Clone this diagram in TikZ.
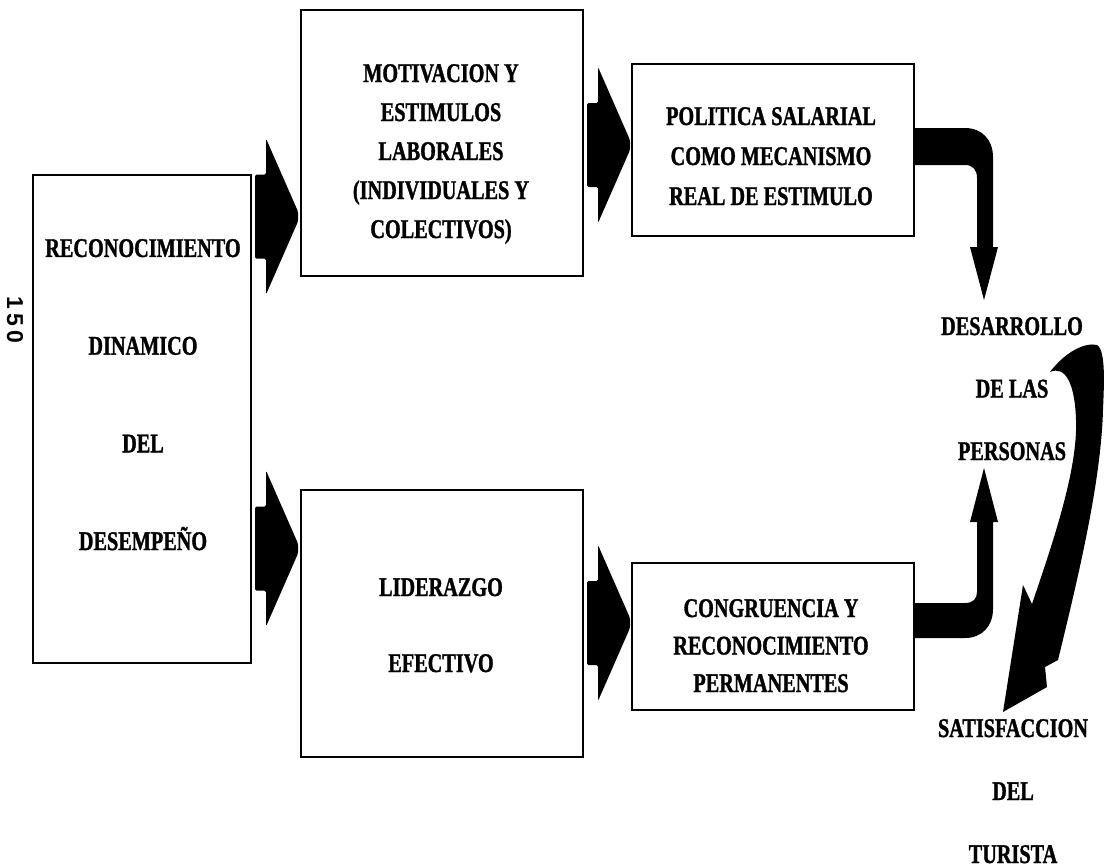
\documentclass[tikz,border=0pt]{standalone}
\usepackage{fontspec}
\newfontfamily\lab{Liberation Serif}[FakeStretch=0.75,FakeBold=1.2]
\newfontfamily\pnum{Liberation Sans}
\newcommand\capl[1]{\raisebox{0pt}[18pt][0pt]{#1}}
\tikzset{
  box/.style={draw, line width=2.4pt, inner sep=0pt},
  lbl/.style={inner sep=0pt, align=center},
  blk/.style={fill=black, draw=none},
  pics/blockarr/.style={code={
    \fill[blk, rounded corners=1.5pt] (0,-42) -- (11,-42) -- (11,-78)
      -- (43,-5) -- (43,5) -- (11,78) -- (11,42) -- (0,42) -- cycle;
  }}
}
\begin{document}
\begin{tikzpicture}[x=1pt,y=-1pt]
\useasboundingbox (0,0) rectangle (1104,868);

% boxes
\node[box, minimum width=218pt, minimum height=488pt] (L)  at (142,419) {};
\node[box, minimum width=282pt, minimum height=266pt] (TM) at (442,143) {};
\node[box, minimum width=282pt, minimum height=172pt] (TR) at (773,150) {};
\node[box, minimum width=282pt, minimum height=267pt] (BM) at (442,623.5) {};
\node[box, minimum width=282pt, minimum height=147pt] (BR) at (773,636.5) {};

% texts
\node[lbl, font=\lab\fontsize{27}{97.7}\selectfont\bfseries] (tL) at (143,394.5)
  {\capl{RECONOCIMIENTO}\\\capl{DINAMICO}\\\capl{DEL}\\\capl{DESEMPEÑO}};
\node[lbl, font=\lab\fontsize{27}{39}\selectfont\bfseries] (tTM) at (441,151)
  {\capl{MOTIVACION Y}\\\capl{ESTIMULOS}\\\capl{LABORALES}\\\capl{(INDIVIDUALES Y}\\\capl{COLECTIVOS)}};
\node[lbl, font=\lab\fontsize{27}{40}\selectfont\bfseries] (tTR) at (771,156)
  {\capl{POLITICA SALARIAL}\\\capl{COMO MECANISMO}\\\capl{REAL DE ESTIMULO}};
\node[lbl, font=\lab\fontsize{27}{76}\selectfont\bfseries] (tBM) at (441,625)
  {\capl{LIDERAZGO}\\\capl{EFECTIVO}};
\node[lbl, font=\lab\fontsize{27}{37.5}\selectfont\bfseries] (tBR) at (771,645.5)
  {\capl{CONGRUENCIA Y}\\\capl{RECONOCIMIENTO}\\\capl{PERMANENTES}};
\node[lbl, font=\lab\fontsize{27}{62.5}\selectfont\bfseries] (tD) at (1012,388.5)
  {\capl{DESARROLLO}\\\capl{DE LAS}\\\capl{PERSONAS}};
\node[lbl, font=\lab\fontsize{27}{63}\selectfont\bfseries] (tS) at (1013,791)
  {\capl{SATISFACCION}\\\capl{DEL}\\\capl{TURISTA}};
\node[inner sep=0pt, rotate=-90, font=\pnum\fontsize{23}{23}\selectfont\bfseries] (pg) at (15,320)
  {1\kern4pt5\kern4pt0};

% block arrows between boxes
\pic at (255,216.5) {blockarr};
\pic at (255,548.5) {blockarr};
\pic at (587,145) {blockarr};
\pic at (587,623) {blockarr};

% bent arrow: top right box -> DESARROLLO
\fill[blk] (TR.east |- 0,128) -- (965,128) .. controls (982,128) and (993,140) .. (993,157)
  -- (993,247) -- (998,247) -- (984,300) -- (970,247) -- (977,247) -- (977,178)
  .. controls (977,170) and (973,165) .. (965,165) -- (TR.east |- 0,165) -- cycle;

% bent arrow: bottom right box -> PERSONAS
\fill[blk] (BR.east |- 0,638) -- (965,638) .. controls (982,638) and (993,626) .. (993,609)
  -- (993,522) -- (998,522) -- (984,468) -- (970,522) -- (977,522) -- (977,592)
  .. controls (977,599) and (973,603) .. (965,603) -- (BR.east |- 0,603) -- cycle;

% big curved arrow: DESARROLLO -> SATISFACCION
\fill[blk] (1050,372) .. controls (1065,352) and (1085,342) .. (1097,345)
  .. controls (1106,350) and (1104,385) .. (1103,410)
  .. controls (1101,480) and (1080,570) .. (1058,660)
  -- (1045,667) -- (1047,687) -- (1003,712) -- (1023,585) -- (1032,604)
  .. controls (1052,545) and (1078,470) .. (1076,420)
  .. controls (1075,385) and (1066,365) .. (1050,372) -- cycle;
\end{tikzpicture}
\end{document}
